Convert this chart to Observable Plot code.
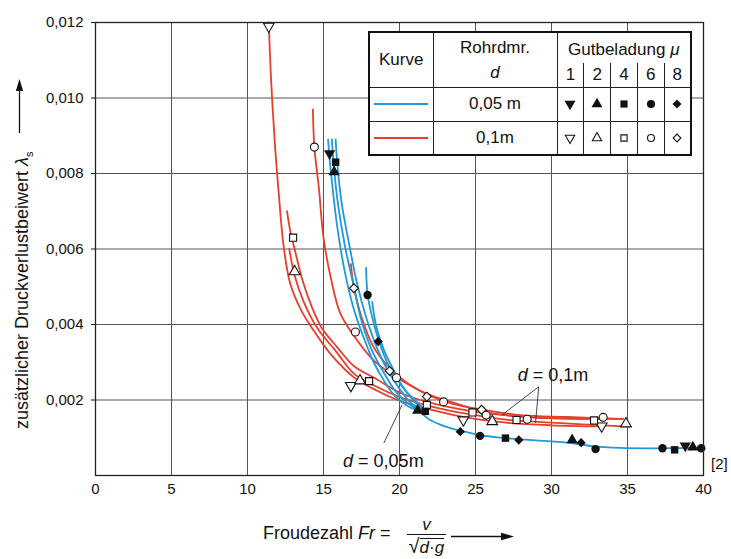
<!DOCTYPE html>
<html>
<head>
<meta charset="utf-8">
<script src="https://cdn.jsdelivr.net/npm/d3@7"></script>
<script src="https://cdn.jsdelivr.net/npm/@observablehq/plot@0.6"></script>
<style>
  body { margin: 0; background: #fff; font-family: "Liberation Sans", Arial, Helvetica, sans-serif; color: #111; }
  #wrap { position: relative; width: 731px; height: 559px; overflow: hidden; background: #fff; }
  #wrap svg.plot { position: absolute; left: 0; top: 0; }
  .ov { position: absolute; white-space: nowrap; }
  #leg { position: absolute; left: 368px; top: 31px; width: 322px; height: 125px; border-collapse: collapse;
         table-layout: fixed; background: #fff; border: 2px solid #111; font-size: 17px; }
  #leg td { border: 1px solid #222; padding: 0; text-align: center; vertical-align: middle; overflow: hidden; }
  #leg td.gb { border-bottom: none; }
  #leg td.n { border-top: none; }
  #leg svg { display: block; margin: 0 auto; }
</style>
</head>
<body>
<div id="wrap"></div>
<script>
// ---------- axis ticks ----------
const xTicks = [0, 5, 10, 15, 20, 25, 30, 35, 40];
const yTicks = [0.002, 0.004, 0.006, 0.008, 0.010, 0.012];

// ---------- legend texts ----------
const loadings = ["1", "2", "4", "6", "8"];
const diameters = ["0,05 m", "0,1m"];

// ---------- curves, d = 0,05 m (blue) ----------
const blueCurveMu1 = [[15.3,0.0089],[15.4,0.0084],[15.55,0.0078],[15.9,0.0066],[16.4,0.0054],[17.0,0.0044],[17.6,0.0037],[18.3,0.0030],[19.0,0.0025],[19.7,0.0021],[20.5,0.00185],[21.3,0.00172]];
const blueCurveMu2 = [[15.55,0.0089],[15.7,0.0081],[15.95,0.0072],[16.4,0.0061],[17.0,0.0050],[17.5,0.0041],[18.2,0.0033],[19.0,0.0027],[19.8,0.0022],[20.6,0.0019],[21.4,0.00172]];
const blueCurveMu4 = [[15.8,0.0089],[15.9,0.0083],[16.2,0.0072],[16.7,0.0061],[17.2,0.0051],[17.8,0.0042],[18.5,0.0034],[19.2,0.0028],[20.0,0.0023],[20.8,0.0019],[21.5,0.00172]];
const blueCurveMu6 = [[17.8,0.0055],[17.9,0.0048],[18.2,0.0042],[18.7,0.0035],[19.3,0.0029],[20.1,0.0024],[20.9,0.0020],[21.6,0.00172]];
const blueCurveMu8 = [[18.2,0.0046],[18.5,0.0039],[19.0,0.0033],[19.6,0.0028],[20.3,0.0023],[21.0,0.0020],[21.7,0.00172]];
const blueCurveTail = [[21.3,0.00172],[21.9,0.0015],[22.6,0.00136],[23.4,0.00125],[24.3,0.00116],[25.3,0.00107],[27.0,0.00099],[29.0,0.00093],[31.3,0.00086],[32.8,0.00077],[34.5,0.00073],[36.5,0.00072],[40.0,0.00073]];

// ---------- curves, d = 0,1 m (red) ----------
const redCurveMu1 = [[11.4,0.0120],[11.55,0.0105],[11.8,0.0088],[12.05,0.0075],[12.37,0.0061],[12.8,0.0051],[13.5,0.0044],[14.25,0.0039],[15.5,0.0032],[17.0,0.0026],[18.5,0.00225],[20.0,0.00198],[22.0,0.00175],[24.2,0.00155],[27.0,0.0014],[30.0,0.00133],[33.3,0.0013]];
const redCurveMu2 = [[12.75,0.0060],[13.1,0.0053],[13.7,0.0046],[14.6,0.0039],[15.8,0.0033],[17.0,0.0027],[18.5,0.00235],[20.0,0.00208],[22.0,0.00184],[24.5,0.00163],[27.0,0.00148],[30.0,0.0014],[34.7,0.0013]];
const redCurveMu4 = [[12.6,0.0070],[12.85,0.0064],[13.1,0.0060],[13.6,0.0052],[14.2,0.0045],[14.9,0.0039],[15.9,0.0034],[17.0,0.0029],[18.5,0.00255],[20.0,0.0022],[22.0,0.00193],[24.8,0.0017],[27.7,0.00157],[30.0,0.00152],[34.7,0.0015]];
const redCurveMu6 = [[14.3,0.0097],[14.4,0.0087],[14.7,0.0076],[15.0,0.0063],[15.5,0.0052],[16.1,0.0043],[17.0,0.0037],[18.3,0.00305],[19.8,0.0026],[21.5,0.00222],[23.0,0.0020],[25.7,0.00168],[28.4,0.00155],[33.3,0.0015]];
const redCurveMu8 = [[16.8,0.0056],[17.0,0.0050],[17.5,0.0042],[18.3,0.0034],[19.35,0.00285],[20.5,0.00245],[21.8,0.00215],[23.5,0.0019],[25.4,0.00175],[28.0,0.0016],[31.0,0.00155],[34.7,0.0015]];

// ---------- measured points ----------
const blueMu1 = [[15.4,0.00853],[38.8,0.00079]];
const blueMu2 = [[15.7,0.00804],[21.2,0.00172],[31.36,0.00094],[39.3,0.00075]];
const blueMu4 = [[15.8,0.0083],[21.7,0.0017],[26.97,0.00099],[38.1,0.00068]];
const blueMu6 = [[17.9,0.00478],[25.3,0.00105],[32.9,0.0007],[37.3,0.00072],[39.85,0.00072]];
const blueMu8 = [[18.6,0.00355],[24.0,0.00116],[27.85,0.00094],[31.95,0.00087]];
const redMu1 = [[11.4,0.0119],[16.8,0.00238],[24.2,0.00147],[33.3,0.00131]];
const redMu2 = [[13.1,0.0054],[17.4,0.00251],[26.1,0.00143],[34.9,0.00137]];
const redMu4 = [[13.0,0.0063],[18.0,0.0025],[21.8,0.00187],[24.8,0.00167],[27.7,0.00147],[32.8,0.00146]];
const redMu6 = [[14.4,0.0087],[17.1,0.0038],[19.8,0.00259],[22.9,0.00195],[25.7,0.0016],[28.4,0.00149],[33.4,0.00154]];
const redMu8 = [[17.0,0.00496],[19.35,0.00277],[21.8,0.00209],[25.4,0.00174]];

// ---------- annotations (data units) ----------
const leaderLines = [
  [29.16, 0.00235, 26.76, 0.00161],
  [29.16, 0.00235, 28.95, 0.00139],
  [18.97, 0.00086, 20.17, 0.00187]
];
const annotationLabels = [
  ["<i>d</i> = 0,1m", 30.13, 0.00265],
  ["<i>d</i> = 0,05m", 18.97, 0.00037]
];

// ---------- styles ----------
const blueColor = "#1f9ad8";
const redColor = "#e63f2c";
const gridColor = "#5a5352";
const ink = "#111";

const sqrt3 = Math.sqrt(3);
const symDown = { draw(ctx, size) { const y = -Math.sqrt(size / (sqrt3 * 3)); ctx.moveTo(0, -y * 2); ctx.lineTo(-sqrt3 * y, y); ctx.lineTo(sqrt3 * y, y); ctx.closePath(); } };
const symDiamond = { draw(ctx, size) { const r = Math.sqrt(size) * 0.62625; ctx.moveTo(0, -r); ctx.lineTo(r, 0); ctx.lineTo(0, r); ctx.lineTo(-r, 0); ctx.closePath(); } };
const symbols = [symDown, d3.symbolTriangle, d3.symbolSquare, d3.symbolCircle, symDiamond];

const rows = (list, tag) => list.flatMap((pairs, i) => pairs.map(([x, y]) => ({ x, y, k: tag + i })));
const pts = (pairs) => pairs.map(([x, y]) => ({ x, y }));

const blueCurves = [blueCurveMu1, blueCurveMu2, blueCurveMu4, blueCurveMu6, blueCurveMu8, blueCurveTail];
const redCurves = [redCurveMu1, redCurveMu2, redCurveMu4, redCurveMu6, redCurveMu8];
const blueSets = [blueMu1, blueMu2, blueMu4, blueMu6, blueMu8];
const redSets = [redMu1, redMu2, redMu4, redMu6, redMu8];

const dotMarks = [];
redSets.forEach((s, i) => dotMarks.push(Plot.dot(pts(s), { x: "x", y: "y", symbol: symbols[i], r: 4, fill: "#fff", stroke: ink, strokeWidth: 1.1 })));
blueSets.forEach((s, i) => dotMarks.push(Plot.dot(pts(s), { x: "x", y: "y", symbol: symbols[i], r: 4.2, fill: ink, stroke: "none" })));

const plot = Plot.plot({
  width: 731,
  height: 559,
  marginLeft: 95,
  marginRight: 28,
  marginTop: 22,
  marginBottom: 84,
  style: { fontFamily: "'Liberation Sans', Arial, sans-serif", fontSize: "15px", color: ink, background: "transparent", overflow: "visible" },
  x: { domain: [0, 40], ticks: xTicks, tickFormat: d => String(d), tickSize: 0, tickPadding: 8, label: null },
  y: { domain: [0, 0.012], ticks: yTicks, tickFormat: d => d3.format(".3f")(d).replace(".", ","), tickSize: 4, tickPadding: 8, label: null },
  marks: [
    Plot.ruleX(xTicks.slice(1, -1), { stroke: gridColor, strokeWidth: 1 }),
    Plot.ruleY(yTicks.slice(0, -1), { stroke: gridColor, strokeWidth: 1 }),
    Plot.line(rows(redCurves, "r"), { x: "x", y: "y", z: "k", stroke: redColor, strokeWidth: 1.8, curve: "catmull-rom" }),
    Plot.line(rows(blueCurves, "b"), { x: "x", y: "y", z: "k", stroke: blueColor, strokeWidth: 1.8, curve: "catmull-rom" }),
    Plot.link(leaderLines, { x1: d => d[0], y1: d => d[1], x2: d => d[2], y2: d => d[3], stroke: "#333", strokeWidth: 0.9 }),
    ...dotMarks,
    Plot.frame({ stroke: "#222", strokeWidth: 1.3 })
  ]
});
plot.classList.add("plot");
const wrap = document.getElementById("wrap");
wrap.appendChild(plot);

const sx = plot.scale("x"), sy = plot.scale("y");

// annotation labels
annotationLabels.forEach(([html, x, y]) => {
  const d = document.createElement("div");
  d.className = "ov";
  d.innerHTML = html;
  d.style.cssText += `left:${sx.apply(x)}px;top:${sy.apply(y)}px;transform:translate(-50%,-50%);font-size:18px;background:transparent;`;
  wrap.appendChild(d);
});

// y-axis label (rotated) and arrow
const ylab = document.createElement("div");
ylab.className = "ov";
ylab.innerHTML = "zusätzlicher Druckverlustbeiwert&nbsp;<i>λ</i><sub style='font-size:11px'>s</sub>";
ylab.style.cssText += "left:12px;top:429px;height:20px;line-height:20px;font-size:18px;transform-origin:0 0;transform:rotate(-90deg);";
wrap.appendChild(ylab);

const yArrow = document.createElement("div");
yArrow.className = "ov";
yArrow.style.cssText += "left:14px;top:79px;";
yArrow.innerHTML = "<svg width='11' height='54'><line x1='5.5' y1='54' x2='5.5' y2='10' stroke='#111' stroke-width='1.3'/><path d='M1.8,12 L5.5,0 L9.2,12 Z' fill='#111'/></svg>";
wrap.appendChild(yArrow);

// x-axis label with fraction
const xlab = document.createElement("div");
xlab.className = "ov";
xlab.style.cssText += "left:263px;top:511px;height:44px;display:flex;align-items:center;font-size:18px;";
xlab.innerHTML =
  "<span>Froudezahl <i>Fr</i> =</span>" +
  "<span style='display:inline-flex;flex-direction:column;align-items:center;margin-left:16px;position:relative;top:3px'>" +
    "<span style='line-height:18px;font-size:17px'><i>v</i></span>" +
    "<span style='border-top:1.2px solid #111;padding:1px 2px 0 2px;display:flex;align-items:flex-start;line-height:18px'>" +
      "<span style='font-size:20px;line-height:20px'>√</span>" +
      "<span style='border-top:1.2px solid #111;line-height:18px;font-size:17px;margin-top:2px'><i>d</i>·<i>g</i></span>" +
    "</span>" +
  "</span>";
wrap.appendChild(xlab);

const xArrow = document.createElement("div");
xArrow.className = "ov";
xArrow.style.cssText += "left:451px;top:528px;";
xArrow.innerHTML = "<svg width='64' height='11'><line x1='0' y1='5.5' x2='52' y2='5.5' stroke='#111' stroke-width='1.3'/><path d='M50,1.8 L63,5.5 L50,9.2 Z' fill='#111'/></svg>";
wrap.appendChild(xArrow);

// reference mark
const ref = document.createElement("div");
ref.className = "ov";
ref.textContent = "[2]";
ref.style.cssText += "left:711px;top:455px;font-size:15px;";
wrap.appendChild(ref);

// legend table
const symPath = (i, size) => d3.symbol().type(symbols[i]).size(size)();
const symSvg = (i, filled) =>
  `<svg width="14" height="14" viewBox="-7 -7 14 14"><path d="${symPath(i, filled ? 52 : 38)}" fill="${filled ? ink : "#fff"}" stroke="${filled ? "none" : ink}" stroke-width="1.1"/></svg>`;
const lineSvg = (c) => `<svg width="54" height="4"><line x1="0" y1="2" x2="54" y2="2" stroke="${c}" stroke-width="2"/></svg>`;

const leg = document.createElement("table");
leg.id = "leg";
leg.innerHTML =
  "<colgroup><col style='width:64px'><col style='width:124px'>" + loadings.map(() => "<col style='width:26.8px'>").join("") + "</colgroup>" +
  "<tr style='height:31px'><td rowspan='2'>Kurve</td><td rowspan='2' style='line-height:25px'>Rohrdmr.<br><i>d</i></td>" +
  "<td colspan='5' class='gb' style='padding-top:4px'>Gutbeladung <i>μ</i></td></tr>" +
  "<tr style='height:24px'>" + loadings.map(m => `<td class='n'>${m}</td>`).join("") + "</tr>" +
  "<tr style='height:34px'><td>" + lineSvg(blueColor) + "</td><td>" + diameters[0] + "</td>" + loadings.map((m, i) => `<td>${symSvg(i, true)}</td>`).join("") + "</tr>" +
  "<tr style='height:34px'><td>" + lineSvg(redColor) + "</td><td>" + diameters[1] + "</td>" + loadings.map((m, i) => `<td>${symSvg(i, false)}</td>`).join("") + "</tr>";
wrap.appendChild(leg);
</script>
</body>
</html>
